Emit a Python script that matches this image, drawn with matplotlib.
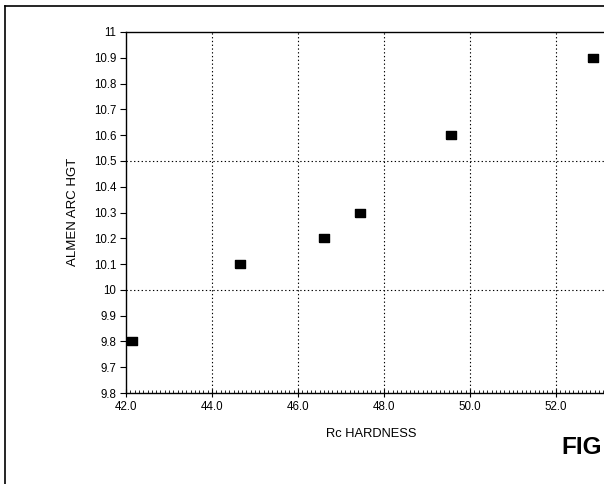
import numpy as np
import matplotlib
matplotlib.use("Agg")
import matplotlib.pyplot as plt
from matplotlib.lines import Line2D
from matplotlib.ticker import FixedLocator, FixedFormatter, MultipleLocator

# data
hardness = [42.15, 44.65, 46.6, 47.45, 49.55, 52.85]
arc_height = [9.8, 10.1, 10.2, 10.3, 10.6, 10.9]

x_major = [42, 44, 46, 48, 50, 52]
x_labels = ["42.0", "44.0", "46.0", "48.0", "50.0", "52.0"]
y_ticks = [9.6, 9.7, 9.8, 9.9, 10.0, 10.1, 10.2, 10.3, 10.4, 10.5,
           10.6, 10.7, 10.8, 10.9, 11.0]
# the bottom label reads "9.8" in the original figure
y_labels = ["9.8", "9.7", "9.8", "9.9", "10", "10.1", "10.2", "10.3", "10.4",
            "10.5", "10.6", "10.7", "10.8", "10.9", "11"]

plt.rcParams['font.family'] = ['Liberation Sans', 'DejaVu Sans']

W, H = 604, 484
fig = plt.figure(figsize=(W / 100, H / 100), dpi=100)
ax = fig.add_axes([126 / W, (H - 393) / H, 516 / W, 361 / H])

rect = [(-1, -0.85), (1, -0.85), (1, 0.85), (-1, 0.85), (-1, -0.85)]
ax.plot(hardness, arc_height, linestyle='none', marker=rect,
        markersize=7.3, color='black', clip_on=False, zorder=3)

ax.set_xlim(42, 54)
ax.set_ylim(9.6, 11.0)

ax.xaxis.set_major_locator(FixedLocator(x_major))
ax.xaxis.set_major_formatter(FixedFormatter(x_labels))
ax.xaxis.set_minor_locator(MultipleLocator(0.1))
ax.yaxis.set_major_locator(FixedLocator(y_ticks))
ax.yaxis.set_major_formatter(FixedFormatter(y_labels))

ax.tick_params(axis='x', which='major', direction='inout', length=6,
               width=0.8, labelsize=8.3, pad=2.5)
ax.tick_params(axis='x', which='minor', direction='in', length=2.5, width=0.6)
ax.tick_params(axis='y', which='major', direction='out', length=4,
               width=0.8, labelsize=8.3, pad=3)

for x in [44, 46, 48, 50, 52]:
    ax.axvline(x, color='black', linestyle=(0, (1.2, 2.2)), linewidth=0.8)
for y in [10.0, 10.5]:
    ax.axhline(y, color='black', linestyle=(0, (1.2, 2.2)), linewidth=0.8)

for s in ax.spines.values():
    s.set_linewidth(1.0)

fig.text(73 / W, 1 - 212 / H, "ALMEN ARC HGT", rotation=90,
         ha='center', va='center', fontsize=9.5)
fig.text(371 / W, 1 - 434 / H, "Rc HARDNESS", ha='center', va='center',
         fontsize=9.3)
fig.text(561 / W, 1 - 448 / H, "FIG", ha='left', va='center',
         fontsize=17.5, fontweight='bold')

# outer frame of the patent sheet
fig.add_artist(Line2D([4.5 / W, 4.5 / W], [0, 1 - 6 / H], color='black',
                      linewidth=1.2))
fig.add_artist(Line2D([4.5 / W, 1], [1 - 6 / H, 1 - 6 / H], color='black',
                      linewidth=1.2))

fig.savefig("out.png", dpi=100, facecolor='white')
